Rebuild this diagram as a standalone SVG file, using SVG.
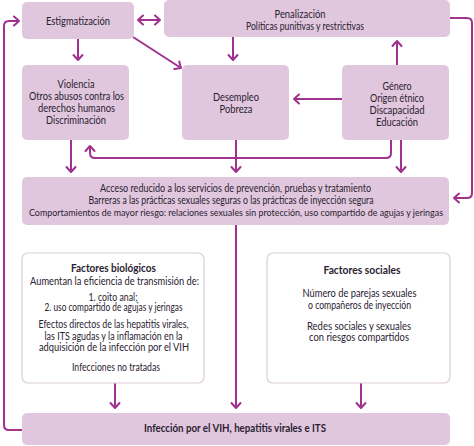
<svg xmlns="http://www.w3.org/2000/svg" width="474" height="446" viewBox="0 0 474 446">
<defs>
<marker id="ah" viewBox="-7 -6 9 12" markerWidth="9" markerHeight="12" refX="0" refY="0" orient="auto-start-reverse" markerUnits="userSpaceOnUse">
<path d="M-5,-4.5 L0,0 L-5,4.5" fill="none" stroke="#a0318e" stroke-width="2" stroke-linecap="round" stroke-linejoin="round"/>
</marker>
<style>
.box{fill:#e1c7de;}
.wbox{fill:#ffffff;stroke:#dccfdb;stroke-width:1.2;}
.t{font-family:Lato,"Liberation Sans",sans-serif;font-size:10.5px;fill:#2a2230;text-anchor:middle;}
.s{font-size:9.2px;}
.b{font-weight:bold;}
.c{fill:none;stroke:#a0318e;stroke-width:2;}
.a{marker-end:url(#ah);}
</style>
</defs>
<rect width="474" height="446" fill="#ffffff"/>
<g id="connectors">
<path class="c a" d="M138,20 L160,20" marker-start="url(#ah)"/>
<path class="c a" d="M78,39 L78,60"/>
<path class="c a" d="M133,37 L181,68"/>
<path class="c a" d="M233,37 L233,60"/>
<path class="c a" d="M397,65 L397,41"/>
<path class="c a" d="M342,99 L294,99"/>
<path class="c a" d="M391,140 L391,153 Q391,158 386,158 L95,158 Q90,158 90,153 L90,146"/>
<path class="c a" d="M71,140 L71,172"/>
<path class="c a" d="M236,140 L236,172"/>
<path class="c a" d="M401,140 L401,172"/>
<path class="c a" d="M450,18 L467,18 Q472,18 472,23 L472,193 Q472,198 467,198 L454,198"/>
<path class="c a" d="M236,225 L236,408"/>
<path class="c a" d="M115,383 L115,408"/>
<path class="c a" d="M361,383 L361,408"/>
<path class="c a" d="M22,430 L9,430 Q4,430 4,425 L4,26 Q4,21 9,21 L19,21"/>
</g>
<g id="estigmatizacion">
<rect class="box" x="22" y="2" width="112" height="37" rx="5"/>
<text class="t" x="78" y="24.5" textLength="64" lengthAdjust="spacingAndGlyphs">Estigmatización</text>
</g>
<g id="penalizacion">
<rect class="box" x="164" y="0" width="286" height="37" rx="5"/>
<text class="t" x="300" y="17.5" textLength="51" lengthAdjust="spacingAndGlyphs">Penalización</text>
<text class="t" x="305" y="29.5" textLength="118" lengthAdjust="spacingAndGlyphs">Políticas punitivas y restrictivas</text>
</g>
<g id="violencia">
<rect class="box" x="22" y="65" width="107" height="75" rx="5"/>
<text class="t" x="76" y="88" textLength="37" lengthAdjust="spacingAndGlyphs">Violencia</text>
<text class="t" x="76.5" y="100" textLength="95" lengthAdjust="spacingAndGlyphs">Otros abusos contra los</text>
<text class="t" x="76.5" y="112" textLength="77" lengthAdjust="spacingAndGlyphs">derechos humanos</text>
<text class="t" x="76" y="124" textLength="60" lengthAdjust="spacingAndGlyphs">Discriminación</text>
</g>
<g id="desempleo">
<rect class="box" x="182" y="65" width="107" height="75" rx="5"/>
<text class="t" x="236" y="100.5" textLength="46" lengthAdjust="spacingAndGlyphs">Desempleo</text>
<text class="t" x="236" y="113" textLength="33" lengthAdjust="spacingAndGlyphs">Pobreza</text>
</g>
<g id="genero">
<rect class="box" x="342" y="65" width="107" height="75" rx="5"/>
<text class="t" x="397" y="90" textLength="29" lengthAdjust="spacingAndGlyphs">Género</text>
<text class="t" x="397" y="102" textLength="54" lengthAdjust="spacingAndGlyphs">Origen étnico</text>
<text class="t" x="397" y="114" textLength="55" lengthAdjust="spacingAndGlyphs">Discapacidad</text>
<text class="t" x="397" y="126" textLength="42" lengthAdjust="spacingAndGlyphs">Educación</text>
</g>
<g id="acceso">
<rect class="box" x="22" y="177" width="427" height="48" rx="5"/>
<text class="t" x="235.5" y="192" textLength="271" lengthAdjust="spacingAndGlyphs">Acceso reducido a los servicios de prevención, pruebas y tratamiento</text>
<text class="t" x="231" y="203.5" textLength="285" lengthAdjust="spacingAndGlyphs">Barreras a las prácticas sexuales seguras o las prácticas de inyección segura</text>
<text class="t s" x="236" y="215.5" textLength="414" lengthAdjust="spacingAndGlyphs">Comportamientos de mayor riesgo: relaciones sexuales sin protección, uso compartido de agujas y jeringas</text>
</g>
<g id="biologicos">
<rect class="wbox" x="22" y="253" width="182" height="130" rx="6"/>
<text class="t b" x="113.5" y="271.5" textLength="85" lengthAdjust="spacingAndGlyphs">Factores biológicos</text>
<text class="t" x="114.5" y="285" textLength="169" lengthAdjust="spacingAndGlyphs">Aumentan la eficiencia de transmisión de:</text>
<text class="t" x="113" y="300.5" textLength="49" lengthAdjust="spacingAndGlyphs">1. coito anal;</text>
<text class="t" x="113.5" y="311" textLength="138" lengthAdjust="spacingAndGlyphs">2. uso compartido de agujas y jeringas</text>
<text class="t" x="113.5" y="327.5" textLength="150" lengthAdjust="spacingAndGlyphs">Efectos directos de las hepatitis virales,</text>
<text class="t" x="113.5" y="339.5" textLength="138" lengthAdjust="spacingAndGlyphs">las ITS agudas y la inflamación en la</text>
<text class="t" x="114" y="351" textLength="150" lengthAdjust="spacingAndGlyphs">adquisición de la infección por el VIH</text>
<text class="t" x="116" y="370.5" textLength="88" lengthAdjust="spacingAndGlyphs">Infecciones no tratadas</text>
</g>
<g id="sociales">
<rect class="wbox" x="267" y="253" width="183" height="130" rx="6"/>
<text class="t b" x="362" y="273.5" textLength="77" lengthAdjust="spacingAndGlyphs">Factores sociales</text>
<text class="t" x="359.5" y="296.5" textLength="114" lengthAdjust="spacingAndGlyphs">Número de parejas sexuales</text>
<text class="t" x="359.5" y="308.5" textLength="103" lengthAdjust="spacingAndGlyphs">o compañeros de inyección</text>
<text class="t" x="359" y="329.5" textLength="104" lengthAdjust="spacingAndGlyphs">Redes sociales y sexuales</text>
<text class="t" x="359" y="340.5" textLength="100" lengthAdjust="spacingAndGlyphs">con riesgos compartidos</text>
</g>
<g id="infeccion">
<rect class="box" x="22" y="413" width="428" height="32" rx="5"/>
<text class="t b" x="235" y="431.5" textLength="182" lengthAdjust="spacingAndGlyphs">Infección por el VIH, hepatitis virales e ITS</text>
</g>
</svg>
